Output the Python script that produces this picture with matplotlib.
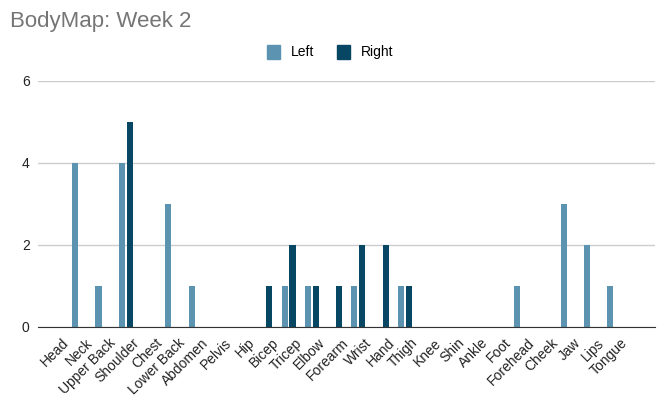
import numpy as np
import matplotlib
matplotlib.use('Agg')
import matplotlib.pyplot as plt
import matplotlib.patches as mpatches
import matplotlib.transforms as mtrans

plt.rcParams['font.family'] = ['Liberation Sans', 'DejaVu Sans']

# Datos
parts = ['Head', 'Neck', 'Upper Back', 'Shoulder', 'Chest', 'Lower Back', 'Abdomen',
         'Pelvis', 'Hip', 'Bicep', 'Tricep', 'Elbow', 'Forearm', 'Wrist', 'Hand',
         'Thigh', 'Knee', 'Shin', 'Ankle', 'Foot', 'Forehead', 'Cheek', 'Jaw',
         'Lips', 'Tongue']
left = [0, 4, 1, 4, 0, 3, 1, 0, 0, 0, 1, 1, 0, 1, 0, 1, 0, 0, 0, 0, 1, 0, 3, 2, 1]
right = [0, 0, 0, 5, 0, 0, 0, 0, 0, 1, 2, 1, 1, 2, 2, 1, 0, 0, 0, 0, 0, 0, 0, 0, 0]
y_ticks = [0, 2, 4, 6]

c_left = '#5b93b0'
c_right = '#074763'

fig = plt.figure(figsize=(6.72, 3.99), dpi=100)
ax = fig.add_axes([38/672, 72/399, 617/672, 246/399])

x = np.arange(len(parts))
w = 0.26
ax.bar(x - 0.17, left, width=w, color=c_left, zorder=3)
ax.bar(x + 0.17, right, width=w, color=c_right, zorder=3)

ax.set_xlim(-0.77, 25.75)
ax.set_ylim(0, 6)
ax.set_yticks(y_ticks)
ax.grid(axis='y', color='#cccccc', linewidth=1, zorder=0)
ax.set_axisbelow(True)
for s in ['top', 'right', 'left']:
    ax.spines[s].set_visible(False)
ax.spines['bottom'].set_color('#333333')
ax.spines['bottom'].set_zorder(4)
ax.tick_params(axis='both', length=0, labelsize=10, colors='#222222')
ax.tick_params(axis='y', pad=6)

ax.set_xticks(x)
ax.set_xticklabels(parts, rotation=45, ha='right', va='top', rotation_mode='anchor')
offset = mtrans.ScaledTranslation(6/100, -4/100, fig.dpi_scale_trans)
for lbl in ax.get_xticklabels():
    lbl.set_transform(lbl.get_transform() + offset)

fig.text(10/672, 1 - 21/399, 'BodyMap: Week 2', fontsize=16, color='#757575',
         ha='left', va='center')

handles = [mpatches.Patch(color=c_left, label='Left'),
           mpatches.Patch(color=c_right, label='Right')]
fig.legend(handles=handles, loc='center', bbox_to_anchor=(330/672, 1 - 52/399),
           ncol=2, frameon=False, fontsize=10, handlelength=0.95, handleheight=1.2,
           columnspacing=1.6, handletextpad=0.8)

fig.savefig('out.png', dpi=100)
